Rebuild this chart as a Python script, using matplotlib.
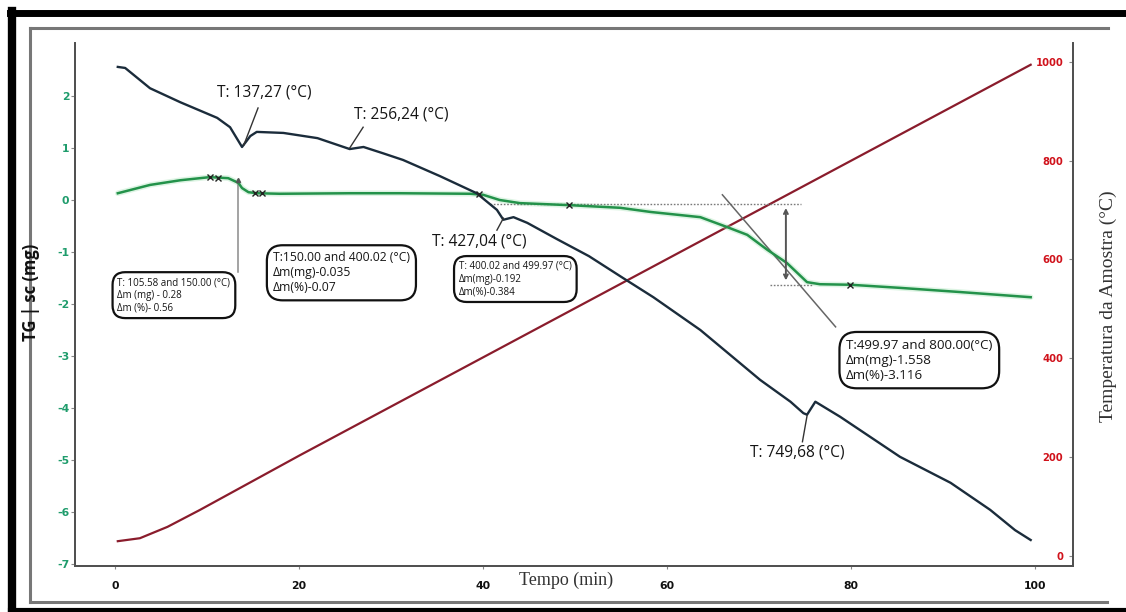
import numpy as np
import matplotlib
matplotlib.use("Agg")
import matplotlib.pyplot as plt
import matplotlib.transforms as mtransforms
from matplotlib.lines import Line2D

plt.rcParams["axes.unicode_minus"] = False

# ---- data -------------------------------------------------------------
# heat-flow style signal (left axis)
dsc_t = [0.3, 1.1, 3.8, 7.1, 11.1, 12.5, 13.8, 14.7, 15.4, 18.3, 22.0, 25.5, 27.0,
         29.1, 31.3, 35.3, 39.3, 41.5, 42.2, 43.3, 44.8, 48.0, 51.5, 55.2, 58.5,
         63.6, 70.1, 73.4, 74.8, 75.2, 76.1, 78.8, 85.3, 90.8, 95.1, 97.8, 99.5]
dsc_v = [2.56, 2.54, 2.15, 1.88, 1.58, 1.40, 1.02, 1.23, 1.31, 1.29, 1.19, 0.98, 1.02,
         0.90, 0.77, 0.46, 0.13, -0.19, -0.38, -0.33, -0.44, -0.75, -1.08, -1.50, -1.87,
         -2.50, -3.46, -3.88, -4.10, -4.13, -3.88, -4.17, -4.94, -5.44, -5.96, -6.35, -6.54]

# TG mass signal (left axis)
tg_t = [0.3, 3.8, 7.1, 10.3, 12.3, 13.4, 13.8, 14.5, 15.5, 17.9, 25.5, 31.0, 38.6,
        40.0, 41.8, 44.0, 49.5, 54.9, 58.2, 63.6, 66.5, 68.7, 70.9, 73.0, 75.2,
        76.6, 79.9, 85.3, 91.8, 99.5]
tg_v = [0.13, 0.29, 0.38, 0.44, 0.42, 0.33, 0.23, 0.15, 0.13, 0.12, 0.13, 0.13, 0.12,
        0.10, 0.00, -0.06, -0.10, -0.15, -0.23, -0.33, -0.52, -0.67, -0.96, -1.21, -1.58,
        -1.62, -1.63, -1.69, -1.77, -1.87]

# sample temperature (right axis)
temp_t = [0.3, 2.7, 5.7, 9.2, 20.1, 40.0, 60.0, 80.0, 99.5]
temp_c = [30, 36, 59, 93, 204, 402, 601, 800, 994]

x_ticks = [0, 20, 40, 60, 80, 100]
left_ticks = [2, 1, 0, -1, -2, -3, -4, -5, -6, -7]
right_ticks = [0, 200, 400, 600, 800, 1000]

peak_labels = ["T: 137,27 (°C)", "T: 256,24 (°C)", "T: 427,04 (°C)", "T: 749,68 (°C)"]
step_labels = [
    "T: 105.58 and 150.00 (°C)\nΔm (mg) - 0.28\nΔm (%)- 0.56",
    "T:150.00 and 400.02 (°C)\nΔm(mg)-0.035\nΔm(%)-0.07",
    "T: 400.02 and 499.97 (°C)\nΔm(mg)-0.192\nΔm(%)-0.384",
    "T:499.97 and 800.00(°C)\nΔm(mg)-1.558\nΔm(%)-3.116",
]
marker_t = [10.3, 11.2, 15.2, 16.0, 39.5, 49.3, 79.9]

# ---- figure -----------------------------------------------------------
W, H = 1126, 612
fig = plt.figure(figsize=(W / 100, H / 100), dpi=100)
fig.patch.set_facecolor("white")

def fx(px):
    return px / W

def fy(py):
    return 1 - py / H

ax = fig.add_axes([fx(75), fy(566), fx(1073) - fx(75), fy(43) - fy(566)])
ax2 = ax.twinx()

GREEN_TXT = "#1f9c6c"
RED_TXT = "#d0121b"
DARK = "#1b2c3b"
GREEN = "#23924a"
MAROON = "#8a1c2c"
GREY = "#7a7a7a"

ax.set_xlim(-4.35, 104.1)
ax.set_ylim(-7.04, 3.02)
ax2.set_ylim(-20.2, 1038)

# curves
ax2.plot(temp_t, temp_c, color=MAROON, lw=1.6, zorder=2)
ax.plot(tg_t, tg_v, color="#9fe0b0", lw=4.0, alpha=0.35, zorder=3, solid_capstyle="round")
ax.plot(tg_t, tg_v, color=GREEN, lw=1.8, zorder=4)
ax.plot(dsc_t, dsc_v, color=DARK, lw=1.7, zorder=5)
ax.set_zorder(ax2.get_zorder() + 1)
ax.patch.set_visible(False)

# step construction lines
ax.plot([40.8, 74.5], [-0.08, -0.08], color=GREY, lw=1.0, ls=(0, (1.2, 1.2)), zorder=3)
ax.plot([71.2, 75.8], [-1.63, -1.63], color=GREY, lw=1.0, ls=(0, (1.2, 1.2)), zorder=3)
ax.plot([17.9, 25.0], [0.13, 0.13], color="#9a9a9a", lw=0.8, ls=(0, (1, 1)), zorder=3)
ax.plot([66.0, 78.3], [0.10, -2.44], color="#666666", lw=1.1, zorder=3)
ax.annotate("", xy=(72.9, -0.1), xytext=(72.9, -1.6),
            arrowprops=dict(arrowstyle="<->", color="#555555", lw=1.4,
                            mutation_scale=7), zorder=6)
ax.plot([13.4, 13.4], [0.38, -1.38], color="#8a8a8a", lw=1.1, zorder=3)
ax.plot([13.4], [0.38], marker="^", ms=3, color="#555555", zorder=6)

# step markers on TG
mv = np.interp(marker_t, tg_t, tg_v)
ax.plot(marker_t, mv, ls="none", marker="x", ms=4, mew=1.0, color="#222222", zorder=6)

# peak labels
peak_pos = [(16.2, 2.06), (31.1, 1.65), (39.6, -0.79), (74.1, -4.85)]
leaders = [((15.54, 1.77), (14.0, 1.06)), ((26.96, 1.40), (25.5, 1.0)),
           ((41.5, -0.58), (42.2, -0.35)), ((74.7, -4.65), (75.2, -4.15))]
for lab, (tx, ty), (a, b) in zip(peak_labels, peak_pos, leaders):
    ax.text(tx, ty, lab, ha="center", va="center", fontsize=11.2, family="Open Sans",
            fontweight="medium", color="#151515", zorder=7)
    ax.plot([a[0], b[0]], [a[1], b[1]], color="#333333", lw=1.0, zorder=6)

# step result boxes
box_pos = [(6.4, -1.83), (24.6, -1.40), (43.5, -1.52), (87.4, -3.08)]
box_fs = [7.0, 8.7, 7.0, 9.6]
for lab, (bx, by), fs in zip(step_labels, box_pos, box_fs):
    ax.text(bx, by, lab, ha="center", va="center", multialignment="left",
            fontsize=fs, family="Open Sans", color="#151515", linespacing=1.2, zorder=8,
            bbox=dict(boxstyle="round,pad=0.5,rounding_size=1.3", fc="white",
                      ec="#111111", lw=1.6))

# axes styling
ax.spines["top"].set_visible(False)
ax2.spines["top"].set_visible(False)
for a_ in (ax, ax2):
    for s in ["left", "right", "bottom"]:
        a_.spines[s].set_color("#505050")
        a_.spines[s].set_linewidth(1.3)

ax.set_xticks(x_ticks)
ax.set_yticks(left_ticks)
ax2.set_yticks(right_ticks)
ax.tick_params(axis="x", length=2, width=0.8, color="#888888", pad=9,
               labelsize=7.8, labelcolor="#111111")
ax.tick_params(axis="y", length=3, width=0.8, color="#888888", pad=1,
               labelsize=7.8, labelcolor=GREEN_TXT)
ax2.tick_params(axis="y", length=3, width=0.8, color="#888888", pad=1,
                labelsize=7.2, labelcolor=RED_TXT, direction="in",
                left=False, right=True, labelleft=False, labelright=True)
for lbl in ax.get_xticklabels() + ax.get_yticklabels() + ax2.get_yticklabels():
    lbl.set_fontweight("bold")

# right tick labels sit just inside the right spine
offset = mtransforms.ScaledTranslation(-8 / 72, 0, fig.dpi_scale_trans)
for lbl in ax2.get_yticklabels():
    lbl.set_horizontalalignment("right")
    lbl.set_transform(lbl.get_transform() + offset)

# axis titles
fig.text(fx(31), fy(292), "TG | sc (mg)", rotation=90, ha="center", va="center",
         fontsize=12, fontweight="bold", family="Open Sans", color="#111111")
fig.text(fx(1108), fy(306), "Temperatura da Amostra (°C)", rotation=90,
         ha="center", va="center", fontsize=14, family="Liberation Serif", color="#333333")
fig.text(fx(566), fy(580), "Tempo (min)", ha="center", va="center",
         fontsize=13, family="Liberation Serif", color="#333333")

# surrounding frame
frame = [
    ((10, 1126), (13, 13), "black", 5),
    ((12, 12), (11, 612), "black", 6),
    ((10, 1126), (610, 610), "black", 3),
    ((30, 1108), (28, 28), "#777777", 2.2),
    ((30, 30), (28, 602), "#777777", 2.2),
    ((30, 1107), (602, 602), "#777777", 2.2),
]
for (x0, x1), (y0, y1), c, lw in frame:
    fig.add_artist(Line2D([fx(x0), fx(x1)], [fy(y0), fy(y1)], color=c, lw=lw,
                          transform=fig.transFigure))

fig.savefig("out.png", dpi=100)
